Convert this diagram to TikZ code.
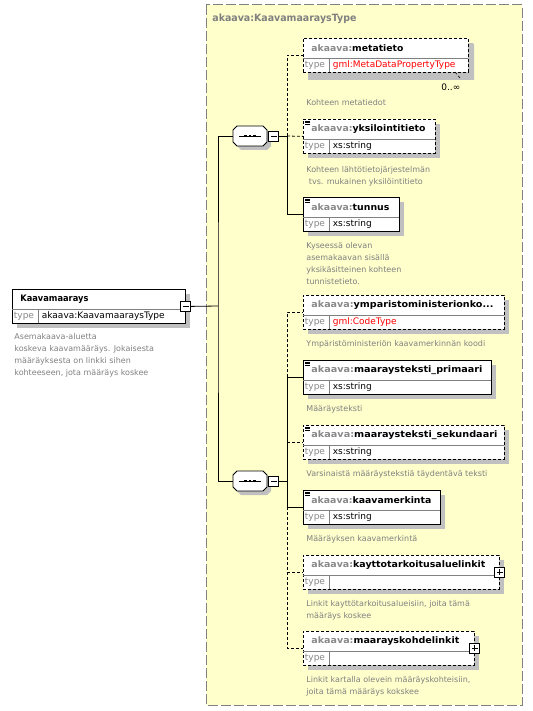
\documentclass[tikz,border=0pt]{standalone}
\usepackage{fontspec}
\setmainfont{DejaVu Sans}
\usepackage{graphicx}
\usepackage{tikz}
\usetikzlibrary{positioning, calc}
\usepackage{xcolor}

\definecolor{schemayellow}{HTML}{FFFFCC}
\definecolor{framegray}{HTML}{808080}
\definecolor{shadowgray}{HTML}{C0C0C0}
\definecolor{nsgray}{HTML}{888888}
\definecolor{descgray}{HTML}{808080}
\definecolor{typered}{HTML}{FF0000}

\newcommand{\ns}[1]{\textcolor{nsgray}{#1}}
\newcommand{\gmltype}[1]{\textcolor{typered}{#1}}
\newcommand{\fitw}[2]{\resizebox{#1pt}{\height}{#2}}

% element box: name, x, y (top), width, border, title, title width, type
\newcommand{\xsdelem}[8]{%
  \fill[shadowgray] (#2+5,#3+5) rectangle (#2+#4+5,#3+39);
  \node[elembox,#5,minimum width=#4pt,anchor=north west] (#1) at (#2,#3) {};
  \draw[rowline] (#2,#3+20) -- (#2+#4,#3+20) (#2+26,#3+20) -- (#2+26,#3+34);
  \node[boxtext,font=\bfseries\fontsize{9}{11}\selectfont,anchor=west] (#1-name) at (#2+8,#3+10) {\fitw{#7}{#6}};
  \node[boxtext,text=nsgray,anchor=west] (#1-tl) at (#2+1.5,#3+27) {type};
  \node[boxtext,anchor=west] (#1-type) at (#2+29.5,#3+27) {#8};
}

% simple content mark
\newcommand{\simplemark}[2]{%
  \draw[line width=0.5pt] (#1+2,#2+2) -- ++(5,0) (#1+2,#2+3.6) -- ++(5,0) (#1+2,#2+5.2) -- ++(5,0);
}

% sequence compositor: name, x, y (centre)
\newcommand{\seqcomp}[3]{%
  \begin{scope}[shift={(#2,#3)}]
    \fill[shadowgray,shift={(4,4)},octagon];
    \draw[fill=white,octagon];
    \node[inner sep=0pt,minimum width=34pt,minimum height=20pt] (#1) at (0,0) {};
    \draw (-11,0) -- (11,0);
    \foreach \d in {-4.5,0,4.5}
      \fill (\d-1.3,-1.3) rectangle ++(2.6,2.6);
  \end{scope}
  \node[minusbox,anchor=west] (#1-m) at ([xshift=1pt]#1.east) {};
}

\begin{document}
\begin{tikzpicture}[x=1pt, y=-1pt, line width=0.8pt,
    elembox/.style={draw, fill=white, minimum height=34pt, inner sep=0pt},
    dashline/.style={dash pattern=on 3pt off 2pt},
    rowline/.style={draw=framegray, solid, line width=0.6pt},
    boxtext/.style={inner sep=0pt, font=\fontsize{9}{11}\selectfont},
    desc/.style={inner sep=0pt, anchor=north west, align=left, text=descgray,
      font=\fontsize{8}{12}\selectfont},
    octagon/.style={insert path={(-13,-10) -- (13,-10) -- (17,-6) -- (17,6)
      -- (13,10) -- (-13,10) -- (-17,6) -- (-17,-6) -- cycle}},
    minusbox/.style={draw, fill=white, solid, inner sep=0pt, minimum size=10pt,
      path picture={\draw ([xshift=2pt]path picture bounding box.west)
        -- ([xshift=-2pt]path picture bounding box.east);}},
    plusbox/.style={draw, fill=white, solid, inner sep=0pt, minimum size=10pt,
      path picture={\draw ([xshift=2pt]path picture bounding box.west)
        -- ([xshift=-2pt]path picture bounding box.east)
        ([yshift=-2pt]path picture bounding box.north)
        -- ([yshift=2pt]path picture bounding box.south);}}]
    \useasboundingbox (0,0) rectangle (532,711);

    % complex type frame
    \draw[framegray, fill=schemayellow, line width=1pt, dash pattern=on 10pt off 3pt] (206,5) rectangle (522,705);
    \node[inner sep=0pt, anchor=west, text=framegray, font=\bfseries\fontsize{10}{12}\selectfont]
      (typeTitle) at (212,19) {\fitw{144}{akaava:KaavamaaraysType}};

    % Kaavamaarays (root)
    \xsdelem{main}{12}{289}{173}{solid}{Kaavamaarays}{68}{akaava:KaavamaaraysType}
    \node[minusbox] (main-m) at (main.east) {};
    \node[desc] (mainDesc) at (14,331) {\strut Asemakaava-aluetta\\
      koskeva kaavamääräys. Jokaisesta\\ määräyksesta on linkki sihen\\
      kohteeseen, jota määräys koskee};

    % first sequence
    \seqcomp{seqA}{250}{136}
    \fill[shadowgray] (308,72) rectangle (474,80) (468,44) rectangle (474,80);
    \xsdelem{meta}{303}{38}{165}{dashline}{\ns{akaava:}metatieto}{92}{\gmltype{gml:MetaDataPropertyType}}
    \draw[dashline, line width=0.6pt] (455,72) -- (460,78);
    \node[boxtext, anchor=west] (metaOcc) at (441,87) {0..∞};
    \node[desc] (metaDesc) at (306,96.6) {\strut Kohteen metatiedot};

    \xsdelem{yksi}{303}{119}{132}{dashline}{\ns{akaava:}yksilointitieto}{114}{xs:string}
    \simplemark{303}{119}
    \node[desc] (yksiDesc) at (306,163.6) {\strut Kohteen lähtötietojärjestelmän\\
      \hspace*{2.5pt}tvs. mukainen yksilöintitieto};

    \xsdelem{tunnus}{303}{197}{96}{solid}{\ns{akaava:}tunnus}{78}{xs:string}
    \simplemark{303}{197}
    \node[desc] (tunnusDesc) at (306,240) {\strut Kyseessä olevan\\ asemakaavan sisällä\\
      yksikäsitteinen kohteen\\ tunnistetieto.};

    % second sequence
    \seqcomp{seqB}{250}{481}
    \xsdelem{ympar}{303}{295}{201}{dashline}{\ns{akaava:}ymparistoministerionko...}{182}{\gmltype{gml:CodeType}}
    \node[desc] (ymparDesc) at (306,337.6) {\strut Ympäristöministeriön kaavamerkinnän koodi};

    \xsdelem{primaari}{303}{360}{188}{solid}{\ns{akaava:}maaraysteksti\_primaari}{171}{xs:string}
    \simplemark{303}{360}
    \node[desc] (primaariDesc) at (306,402.6) {\strut Määräysteksti};

    \xsdelem{sekund}{303}{425}{201}{dashline}{\ns{akaava:}maaraysteksti\_sekundaari}{186}{xs:string}
    \simplemark{303}{425}
    \node[desc] (sekundDesc) at (306,467.6) {\strut Varsinaistä määräystekstiä täydentävä teksti};

    \xsdelem{kaava}{303}{490}{137}{solid}{\ns{akaava:}kaavamerkinta}{120}{xs:string}
    \simplemark{303}{490}
    \node[desc] (kaavaDesc) at (306,532.6) {\strut Määräyksen kaavamerkintä};

    \xsdelem{kaytto}{303}{555}{196}{dashline}{\ns{akaava:}kayttotarkoitusaluelinkit}{174}{}
    \node[plusbox] (kaytto-p) at (kaytto.east) {};
    \node[desc] (kayttoDesc) at (306,597.6) {\strut Linkit kayttötarkoitusalueisiin, joita tämä\\
      määräys koskee};

    \xsdelem{kohde}{303}{631}{171}{dashline}{\ns{akaava:}maarayskohdelinkit}{148}{}
    \node[plusbox] (kohde-p) at (kohde.east) {};
    \node[desc] (kohdeDesc) at (306,673.6) {\strut Linkit kartalla olevein määräyskohteisiin,\\
      joita tämä määräys kokskee};

    % connectors
    \coordinate (trunk) at (218,306);
    \coordinate (forkA) at (287,136);
    \coordinate (forkB) at (287,481);
    \draw (main-m.east) -- (trunk);
    \draw (seqA.west) -| (trunk) |- (seqB.west);

    \draw (seqA-m.east) -- (forkA);
    \draw[dashline] (forkA) |- (meta.west);
    \draw[dashline] (forkA) -- (yksi.west);
    \draw (forkA) |- (tunnus.west);

    \draw (seqB-m.east) -- (forkB);
    \draw (forkB) |- (primaari.west);
    \draw (forkB) |- (kaava.west);
    \draw[dashline] (primaari.west -| forkB) |- (ympar.west);
    \draw[dashline] (sekund.west -| forkB) -- (sekund.west);
    \draw[dashline] (kaava.west -| forkB) |- (kaytto.west);
    \draw[dashline] (kaava.west -| forkB) |- (kohde.west);
\end{tikzpicture}
\end{document}
